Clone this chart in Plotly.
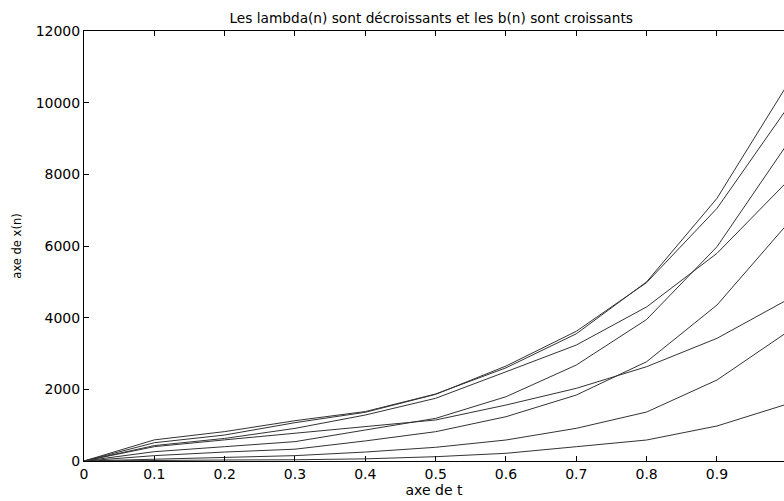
import plotly.graph_objects as go

t_values = [0, 0.1, 0.2, 0.3, 0.4, 0.5, 0.6, 0.7, 0.8, 0.9, 1.0]

series_a = [0, 590, 820, 1125, 1380, 1870, 2600, 3550, 5000, 7330, 10500]
series_b = [0, 510, 725, 1070, 1360, 1860, 2650, 3620, 4980, 7050, 9850]
series_c = [0, 260, 400, 540, 865, 1190, 1794, 2678, 3950, 5979, 8850]
series_d = [0, 430, 630, 910, 1283, 1750, 2490, 3236, 4300, 5795, 7800]
series_e = [0, 150, 250, 330, 560, 818, 1236, 1841, 2771, 4352, 6612]
series_f = [0, 400, 590, 775, 957, 1145, 1562, 2028, 2632, 3423, 4500]
series_g = [0, 60, 100, 150, 250, 382, 586, 912, 1367, 2260, 3599]
series_h = [0, 20, 28, 35, 60, 120, 215, 399, 586, 977, 1590]

all_series = [series_a, series_b, series_c, series_d, series_e, series_f, series_g, series_h]

x_ticks = [0, 0.1, 0.2, 0.3, 0.4, 0.5, 0.6, 0.7, 0.8, 0.9, 1]
x_tick_labels = ["0", "0.1", "0.2", "0.3", "0.4", "0.5", "0.6", "0.7", "0.8", "0.9", "1"]
y_ticks = [0, 2000, 4000, 6000, 8000, 10000, 12000]
y_tick_labels = ["0", "2000", "4000", "6000", "8000", "10000", "12000"]

title_text = "Les lambda(n) sont décroissants et les b(n) sont croissants"
x_title = "axe de t"
y_title = "axe de x(n)"

fig = go.Figure()
for s in all_series:
    fig.add_trace(go.Scatter(x=t_values, y=s, mode="lines",
                             line=dict(color="#333333", width=1),
                             showlegend=False, hoverinfo="skip"))

font_family = "DejaVu Sans, Liberation Sans, Arial, sans-serif"
fig.update_layout(
    width=784, height=501,
    margin=dict(l=84, r=0, t=31, b=40, pad=0),
    paper_bgcolor="white", plot_bgcolor="white",
    font=dict(family=font_family, size=14, color="black"),
    title=dict(text=title_text, x=0.55, xanchor="center", y=0.964, yanchor="middle",
               font=dict(size=13.7, family=font_family, color="black")),
    xaxis=dict(range=[0, 0.9953], tickvals=x_ticks, ticktext=x_tick_labels,
               ticks="inside", ticklen=5, tickcolor="black", showline=True,
               linecolor="black", linewidth=1, mirror="ticks", showgrid=False,
               zeroline=False, tickfont=dict(size=14),
               title=dict(text=x_title, font=dict(size=14), standoff=0)),
    yaxis=dict(range=[0, 12000], tickvals=y_ticks, ticktext=y_tick_labels,
               ticks="inside", ticklen=5, tickcolor="black", showline=True,
               linecolor="black", linewidth=1, showgrid=False, zeroline=False,
               tickfont=dict(size=14),
               title=dict(text=y_title, font=dict(size=11.5), standoff=11)),
    yaxis2=dict(range=[0, 12000], overlaying="y", side="right", tickvals=y_ticks,
                ticks="inside", ticklen=5, tickcolor="black", showline=False,
                showticklabels=False, showgrid=False, zeroline=False),
)

fig.write_html("out.html", config={"displayModeBar": False})
